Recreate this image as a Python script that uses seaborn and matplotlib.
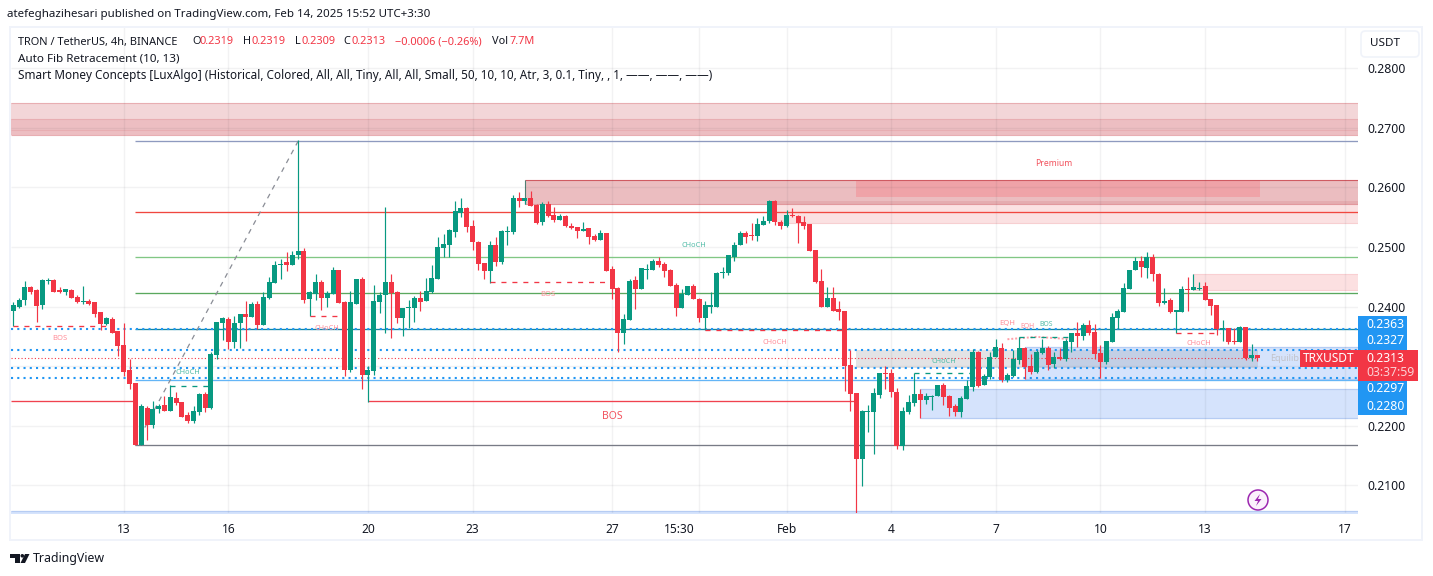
import pandas as pd
import matplotlib
matplotlib.use("Agg")
import matplotlib.pyplot as plt
from matplotlib.patches import Ellipse, FancyBboxPatch, Polygon, Rectangle
import seaborn as sns

#%% DATA (4h candles)
opens = [
    .2393, .2400, .2411, .2432, .2427, .2403, .2443, .2445, .2428, .2425,
    .2428, .2416, .2408, .2410, .2408, .2390, .2371, .2379, .2358, .2336,
    .2294, .2272, .2168, .2230, .2201, .2227, .2235, .2225, .2247, .2240,
    .2217, .2208, .2223, .2253, .2230, .2319, .2373, .2379, .2341, .2373,
    .2388, .2383, .2405, .2369, .2415, .2440, .2469, .2474, .2470, .2487,
    .2493, .2412, .2421, .2441, .2414, .2421, .2461, .2407, .2293, .2404,
    .2446, .2285, .2291, .2407, .2419, .2441, .2424, .2380, .2397, .2397,
    .2414, .2409, .2424, .2446, .2498, .2503, .2525, .2557, .2565, .2535,
    .2508, .2473, .2459, .2503, .2474, .2525, .2525, .2582, .2577, .2582,
    .2570, .2542, .2572, .2553, .2545, .2552, .2535, .2533, .2527, .2532,
    .2518, .2511, .2523, .2463, .2431, .2355, .2377, .2444, .2429, .2461,
    .2461, .2476, .2471, .2461, .2436, .2397, .2419, .2434, .2412, .2380,
    .2400, .2400, .2456, .2456, .2484, .2503, .2523, .2520, .2518, .2537,
    .2543, .2577, .2542, .2535, .2553, .2552, .2542, .2538, .2495, .2443,
    .2400, .2414, .2395, .2392, .2301, .2254, .2144, .2222, .2222, .2251,
    .2288, .2288, .2256, .2166, .2223, .2238, .2253, .2243, .2248, .2250,
    .2268, .2250, .2233, .2223, .2245, .2265, .2324, .2268, .2282, .2315,
    .2330, .2277, .2283, .2310, .2330, .2300, .2290, .2322, .2330, .2303,
    .2315, .2312, .2340, .2356, .2351, .2369, .2357, .2322, .2307, .2340,
    .2381, .2391, .2430, .2462, .2477, .2465, .2483, .2455, .2406, .2411,
    .2391, .2391, .2430, .2428, .2430, .2435, .2413, .2403, .2362, .2364,
    .2342, .2341, .2366, .2314, .2319,
]
highs = [
    .2408, .2415, .2443, .2435, .2430, .2447, .2448, .2446, .2433, .2430,
    .2430, .2420, .2435, .2413, .2408, .2390, .2383, .2383, .2359, .2373,
    .2311, .2272, .2237, .2232, .2242, .2237, .2250, .2268, .2257, .2240,
    .2222, .2233, .2255, .2257, .2324, .2374, .2383, .2383, .2384, .2388,
    .2410, .2408, .2410, .2425, .2450, .2477, .2479, .2492, .2494, .2679,
    .2498, .2426, .2454, .2444, .2426, .2466, .2461, .2409, .2426, .2446,
    .2449, .2300, .2436, .2424, .2567, .2454, .2426, .2397, .2411, .2417,
    .2426, .2448, .2469, .2516, .2521, .2530, .2577, .2582, .2567, .2545,
    .2510, .2473, .2510, .2516, .2528, .2535, .2587, .2592, .2582, .2594,
    .2572, .2575, .2577, .2567, .2555, .2553, .2540, .2533, .2542, .2532,
    .2522, .2528, .2523, .2468, .2432, .2387, .2446, .2451, .2464, .2471,
    .2479, .2483, .2474, .2463, .2439, .2429, .2434, .2437, .2414, .2409,
    .2424, .2458, .2466, .2486, .2508, .2527, .2527, .2540, .2548, .2552,
    .2579, .2579, .2545, .2562, .2565, .2553, .2552, .2538, .2495, .2463,
    .2432, .2432, .2409, .2392, .2327, .2254, .2226, .2234, .2263, .2288,
    .2300, .2295, .2263, .2231, .2251, .2288, .2261, .2255, .2251, .2268,
    .2272, .2251, .2236, .2250, .2277, .2329, .2325, .2287, .2324, .2345,
    .2339, .2288, .2327, .2349, .2332, .2320, .2327, .2345, .2334, .2324,
    .2330, .2345, .2356, .2374, .2372, .2377, .2371, .2335, .2342, .2389,
    .2396, .2440, .2462, .2483, .2485, .2492, .2488, .2457, .2431, .2415,
    .2394, .2435, .2450, .2455, .2441, .2441, .2413, .2403, .2378, .2364,
    .2364, .2368, .2366, .2337, .2319,
]
lows = [
    .2367, .2398, .2403, .2421, .2374, .2395, .2437, .2425, .2423, .2420,
    .2415, .2406, .2405, .2403, .2383, .2361, .2369, .2356, .2316, .2284,
    .2262, .2168, .2168, .2176, .2195, .2221, .2225, .2225, .2235, .2215,
    .2205, .2205, .2218, .2222, .2227, .2311, .2344, .2329, .2331, .2331,
    .2342, .2383, .2363, .2369, .2413, .2440, .2447, .2460, .2470, .2479,
    .2406, .2384, .2411, .2394, .2399, .2421, .2406, .2283, .2290, .2404,
    .2261, .2240, .2285, .2389, .2355, .2347, .2372, .2350, .2364, .2374,
    .2392, .2409, .2422, .2446, .2483, .2483, .2516, .2550, .2525, .2495,
    .2461, .2446, .2440, .2468, .2471, .2503, .2521, .2567, .2572, .2569,
    .2538, .2537, .2550, .2542, .2545, .2533, .2530, .2515, .2527, .2505,
    .2510, .2511, .2459, .2412, .2323, .2337, .2377, .2395, .2429, .2446,
    .2461, .2466, .2449, .2434, .2384, .2397, .2419, .2412, .2374, .2360,
    .2389, .2400, .2448, .2453, .2476, .2503, .2506, .2511, .2510, .2537,
    .2540, .2537, .2530, .2533, .2550, .2506, .2530, .2493, .2439, .2400,
    .2399, .2392, .2377, .2258, .2224, .2052, .2098, .2189, .2152, .2246,
    .2261, .2248, .2161, .2159, .2219, .2233, .2213, .2236, .2226, .2250,
    .2235, .2216, .2216, .2214, .2245, .2258, .2265, .2268, .2278, .2315,
    .2273, .2273, .2282, .2303, .2278, .2287, .2288, .2320, .2293, .2297,
    .2310, .2309, .2324, .2332, .2344, .2352, .2312, .2280, .2303, .2340,
    .2362, .2391, .2430, .2462, .2450, .2448, .2443, .2401, .2404, .2389,
    .2355, .2391, .2393, .2428, .2428, .2411, .2386, .2352, .2342, .2337,
    .2337, .2341, .2310, .2309, .2309,
]
closes = [
    .2403, .2411, .2432, .2425, .2401, .2445, .2445, .2425, .2425, .2430,
    .2415, .2408, .2410, .2405, .2388, .2371, .2381, .2356, .2334, .2290,
    .2270, .2168, .2232, .2201, .2228, .2233, .2225, .2248, .2238, .2215,
    .2208, .2225, .2253, .2230, .2321, .2374, .2381, .2341, .2373, .2388,
    .2383, .2405, .2369, .2416, .2442, .2469, .2472, .2469, .2487, .2494,
    .2411, .2424, .2441, .2414, .2422, .2461, .2406, .2293, .2407, .2446,
    .2285, .2293, .2409, .2419, .2441, .2422, .2380, .2397, .2399, .2414,
    .2407, .2426, .2448, .2500, .2505, .2528, .2560, .2565, .2533, .2508,
    .2471, .2459, .2503, .2474, .2527, .2527, .2582, .2577, .2582, .2569,
    .2540, .2572, .2552, .2545, .2552, .2535, .2532, .2527, .2530, .2516,
    .2511, .2523, .2459, .2429, .2355, .2379, .2443, .2429, .2464, .2463,
    .2476, .2469, .2459, .2434, .2397, .2421, .2434, .2412, .2380, .2402,
    .2402, .2456, .2458, .2486, .2503, .2523, .2516, .2518, .2538, .2543,
    .2577, .2542, .2535, .2553, .2552, .2540, .2535, .2493, .2441, .2400,
    .2414, .2392, .2390, .2300, .2253, .2144, .2224, .2224, .2254, .2288,
    .2287, .2256, .2166, .2224, .2240, .2253, .2243, .2250, .2250, .2268,
    .2248, .2230, .2223, .2246, .2267, .2324, .2267, .2283, .2315, .2332,
    .2277, .2285, .2312, .2330, .2298, .2290, .2324, .2330, .2302, .2315,
    .2312, .2342, .2356, .2351, .2369, .2356, .2320, .2307, .2342, .2382,
    .2393, .2431, .2462, .2477, .2467, .2483, .2455, .2406, .2410, .2391,
    .2394, .2430, .2428, .2433, .2431, .2411, .2401, .2362, .2364, .2341,
    .2341, .2366, .2314, .2319, .2313,
]

price_ticks = [.21, .22, .23, .24, .25, .26, .27, .28]
price_labels = ["0.2100", "0.2200", "", "0.2400", "0.2500", "0.2600", "0.2700", "0.2800"]
time_ticks = [19, 37, 61, 79, 103, 114.5, 133, 151, 169, 187, 205, 229]
time_labels = ["13", "16", "20", "23", "27", "15:30", "Feb", "4", "7", "10", "13", "17"]
time_grid = [19, 37, 61, 79, 103, 118, 133, 151, 169, 187, 205, 229]

# fib levels: price, colour
fib_levels = [
    (.2678, "#8e9abf"), (.2558, "#f0473f"), (.2483, "#81c784"), (.2422, "#5aa85e"),
    (.2362, "#13879f"), (.2276, "#64b5f6"), (.2167, "#787b86"),
]
dotted_levels = [.2363, .2327, .2297, .2280]
last_price = .2313

# zones: first bar, last bar (None = to the right edge), low, high, colour
zones = [
    (-1, None, .2688, .2742, "#f3d6d8"),
    (-1, None, .2688, .2715, "#edbec2"),
    (88, None, .2573, .2613, "#ebbdc0"),
    (131.4, None, .2541, .2578, "#fbe1e2"),
    (131.4, None, .2573, .2578, "#e5acb0"),
    (144.9, 214.5, .2584, .2613, "#efa3a8"),
    (203, None, .2427, .2455, "#fce0e1"),
    (144.9, 174, .2297, .2327, "#e3e3e5"),
    (174, None, .2278, .2332, "#d5e3fc"),
    (174, 214.1, .2297, .2327, "#c3cfe5"),
    (156, None, .2213, .2261, "#d5e3fc"),
    (-1, None, .2040, .2057, "#d5e3fc"),
]
# structure breaks: first bar, last bar, price, colour
break_lines = [
    (0, 16.5, .2367, "#f23645"), (27.0, 33.5, .2267, "#089981"), (51, 56, .2384, "#f23645"),
    (82, 101.8, .2441, "#f23645"), (119, 142.8, .2360, "#f23645"), (155, 164.5, .2288, "#089981"),
    (173, 182, .2348, "#089981"), (200, 207.5, .2355, "#f23645"),
]
# labels: bar, price, text, colour, size
break_labels = [
    (8, .2347, "BOS", "#ff8f9a", 5.5), (30, .2289, "CHoCH", "#52bca8", 5.3), (54, .2363, "CHoCH", "#ff8f9a", 5.3),
    (92, .2420, "BOS", "#ff8f9a", 5.5), (117, .2503, "CHoCH", "#52bca8", 5.3), (131, .2340, "CHoCH", "#ff8f9a", 5.3),
    (103, .2215, "BOS", "#f2545f", 7.5), (179, .2641, "Premium", "#f2545f", 6.2), (160, .2307, "CHoCH", "#52bca8", 5.3),
    (171, .2371, "EQH", "#ff8f9a", 5.5), (174.5, .2366, "EQH", "#ff8f9a", 5), (177.6, .2370, "BOS", "#52bca8", 5),
    (204, .2337, "CHoCH", "#ff8f9a", 5.3),
]

W, H = 1433, 576
GREEN, RED = "#089981", "#f23645"
TXT = "#131722"
FRAME = "#f0f3fa"
FONT = "Noto Sans"

#%% FIGURE
sns.set_theme(style="white")
plt.rcParams["font.family"] = [FONT, "DejaVu Sans"]
fig = plt.figure(figsize=(W / 100, H / 100), dpi=100, facecolor="white")
ax = fig.add_axes([11 / W, (H - 513) / H, 1347 / W, 485 / H])


def chrome_text(x, y, s, **kw):
    kw.setdefault("color", TXT)
    kw.setdefault("fontsize", 8.6)
    kw.setdefault("va", "center")
    return fig.text(x / W, 1 - y / H, s, **kw)


def chrome_rect(x0, y0, x1, y1, **kw):
    fig.add_artist(Rectangle((x0 / W, 1 - y1 / H), (x1 - x0) / W, (y1 - y0) / H,
                             transform=fig.transFigure, **kw))


def chrome_dot(x, y, diameter, **kw):
    fig.add_artist(Ellipse((x / W, 1 - y / H), diameter / W, diameter / H, transform=fig.transFigure, **kw))


df = pd.DataFrame({"bar": range(len(opens)), "open": opens, "high": highs, "low": lows, "close": closes})
df["up"] = df["close"] >= df["open"]
df["bottom"] = df[["open", "close"]].min(axis=1)
df["body"] = (df["close"] - df["open"]).abs().clip(lower=.00017)

x_left, x_right = -0.396, 231.3
ax.set_facecolor("white")

# zones
for x0, x1, lo, hi, col in zones:
    x1 = x_right if x1 is None else x1
    ax.fill_between([x0, x1], lo, hi, color=col, lw=0, zorder=1)
ax.hlines([.2742, .2715, .2697, .2688], x_left, x_right, color="#e8aeb2", lw=.8, zorder=1.1)
ax.hlines([.2613], 88, x_right, color="#cf5b62", lw=.8, zorder=1.1)
ax.hlines([.2573], 88, x_right, color="#e2989d", lw=.8, zorder=1.1)
ax.vlines([88], .2573, .2613, color="#4f7f73", lw=.8, zorder=1.1)
ax.hlines([.2541], 131.4, x_right, color="#f7cfd1", lw=.8, zorder=1.1)
ax.hlines([.2332, .2278, .2261, .2213, .2057], [174, 174, 156, 156, x_left], x_right, color="#b6ccf3", lw=.9, zorder=1.1)
ax.hlines([.2455, .2427], 203, x_right, color="#f9cfd2", lw=.8, zorder=1.1)

# grid sits over the zones
ax.hlines(price_ticks, x_left, x_right, color="#2a2e39", alpha=.06, lw=1, zorder=1.5)
ax.vlines(time_grid, .2, .29, color="#2a2e39", alpha=.06, lw=1, zorder=1.5)

# fib levels and dotted lines
for price, col in fib_levels:
    ax.hlines(price, 21, x_right, color=col, lw=.95, zorder=2)
ax.hlines([.2241, .2241], [x_left, 61], [21, 144.8], color="#f0424f", lw=.95, zorder=2)
ax.plot([21, 49], [.2167, .2678], color="#8a8d96", lw=.9, ls=(0, (4, 4)), zorder=2)
for price in dotted_levels:
    ax.hlines(price, x_left, x_right, color="#2196f3", lw=1.5, ls=(0, (1, 2)), zorder=2.1)
ax.hlines(last_price, x_left, 214, color=RED, lw=.8, ls=(0, (1, 2)), zorder=2.1)
ax.plot([171, 176, 182], [.2345, .2349, .2345], color="#ff9fa8", lw=1.4, ls=(0, (1, 1)), zorder=2.1)

# candles
up, down = df[df["up"]], df[~df["up"]]
for part, col in ((up, GREEN), (down, RED)):
    ax.vlines(part["bar"], part["low"], part["high"], color=col, lw=.85, zorder=3)
    sns.barplot(data=part, x="bar", y="body", bottom=part["bottom"].values, native_scale=True,
                color=col, saturation=1, width=.86, errorbar=None, linewidth=0, zorder=3, ax=ax)

# market structure
for x0, x1, price, col in break_lines:
    ax.plot([x0, x1], [price, price], color=col, lw=.95, ls=(0, (3.8, 4.5)), zorder=3.5)
for bar, price, label, col, size in break_labels:
    ax.text(bar, price, label, color=col, fontsize=size, ha="center", va="center", zorder=4)
ax.text(216.2, last_price, "Equilib", color="#c2c3c9", fontsize=6.5, ha="left", va="center", zorder=4)

ax.set_xlim(x_left, x_right)
ax.set_ylim(.2053, .2868)
ax.set_xlabel("")
ax.set_ylabel("")
ax.yaxis.tick_right()
ax.set_yticks(price_ticks)
ax.set_yticklabels(price_labels, fontsize=8.8, color=TXT)
ax.set_xticks(time_ticks)
ax.set_xticklabels(time_labels, fontsize=8.6, color=TXT)
ax.xaxis.get_ticklabels()[6].set_fontweight("semibold")
ax.tick_params(axis="both", length=0)
ax.tick_params(axis="y", pad=7)
ax.tick_params(axis="x", pad=7)
for side in ax.spines.values():
    side.set_visible(False)

#%% CHROME
chrome_text(7, 15, "atefeghazihesari published on TradingView.com, Feb 14, 2025 15:52 UTC+3:30", fontsize=8.3)

# frame
for box in ((9, 26, 1423, 28), (9, 539, 1423, 541), (9, 26, 11, 541), (1421, 26, 1423, 541)):
    chrome_rect(*box, color=FRAME, lw=0)

# legend rows
chrome_text(18, 42, "TRON / TetherUS, 4h, BINANCE", fontsize=7.9)
for x, s, col in [(192, "O", TXT), (200, "0.2319", RED), (243, "H", TXT), (251, "0.2319", RED),
                  (295, "L", TXT), (301, "0.2309", RED), (343, "C", TXT), (351, "0.2313", RED),
                  (395, "\u22120.0006 (\u22120.26%)", RED), (492, "Vol", TXT), (510, "7.7M", RED)]:
    chrome_text(x, 42, s, color=col, fontsize=7.9)
chrome_text(18, 59, "Auto Fib Retracement (10, 13)", fontsize=8.4)
chrome_text(18, 76, "Smart Money Concepts [LuxAlgo] (Historical, Colored, All, All, Tiny, All, All, Small, 50, 10, 10, "
                    "Atr, 3, 0.1, Tiny, , 1, \u2014\u2014, \u2014\u2014, \u2014\u2014)", fontsize=8.45)

# currency button
fig.add_artist(FancyBboxPatch((1361 / W, 1 - 57 / H), 58 / W, 26 / H, boxstyle="round,pad=0,rounding_size=0.003",
                              transform=fig.transFigure, fc="white", ec=FRAME, lw=1.2, mutation_aspect=W / H))
chrome_text(1370, 44, "USDT", fontsize=8.4)

# price scale badges
BLUE = "#2196f3"
chrome_rect(1358, 316, 1407, 350, color=BLUE, lw=0)
chrome_rect(1358, 380, 1407, 415, color=BLUE, lw=0)
chrome_rect(1358, 350, 1418, 381, color=RED, lw=0)
chrome_rect(1300, 350, 1358, 367, color=RED, lw=0)
for y, s, col in [(325, "0.2363", "white"), (341, "0.2327", "white"), (358, "0.2313", "white"),
                  (373, "03:37:59", "#fbd0d4"), (389, "0.2297", "white"), (406, "0.2280", "white")]:
    chrome_text(1366, y, s, color=col, fontsize=8.8, fontweight="semibold")
chrome_text(1329, 358.5, "TRXUSDT", color="white", fontsize=8.6, ha="center", fontweight="semibold")

# replay badge
chrome_dot(1258, 500, 20, fc="#fbf1fc", ec="#9c27b0", lw=1.1)
fig.add_artist(Polygon([(1260 / W, 1 - 494 / H), (1254.5 / W, 1 - 501 / H), (1258 / W, 1 - 501 / H),
                        (1256 / W, 1 - 506 / H), (1261.5 / W, 1 - 499 / H), (1258 / W, 1 - 499 / H)],
                       transform=fig.transFigure, fc="#9c27b0", ec="none"))

# TradingView logo
chrome_rect(10, 554, 19.5, 557.5, color=TXT, lw=0)
chrome_rect(15, 554, 19.5, 563, color=TXT, lw=0)
chrome_dot(22.3, 555.8, 3.6, fc=TXT, ec="none")
fig.add_artist(Polygon([(25 / W, 1 - 554 / H), (29.5 / W, 1 - 554 / H), (25 / W, 1 - 563 / H), (20.5 / W, 1 - 563 / H)],
                       transform=fig.transFigure, fc=TXT, ec="none"))
chrome_text(33, 558.5, "TradingView", fontsize=8.9)

fig.savefig("out.png", dpi=100, facecolor="white")
